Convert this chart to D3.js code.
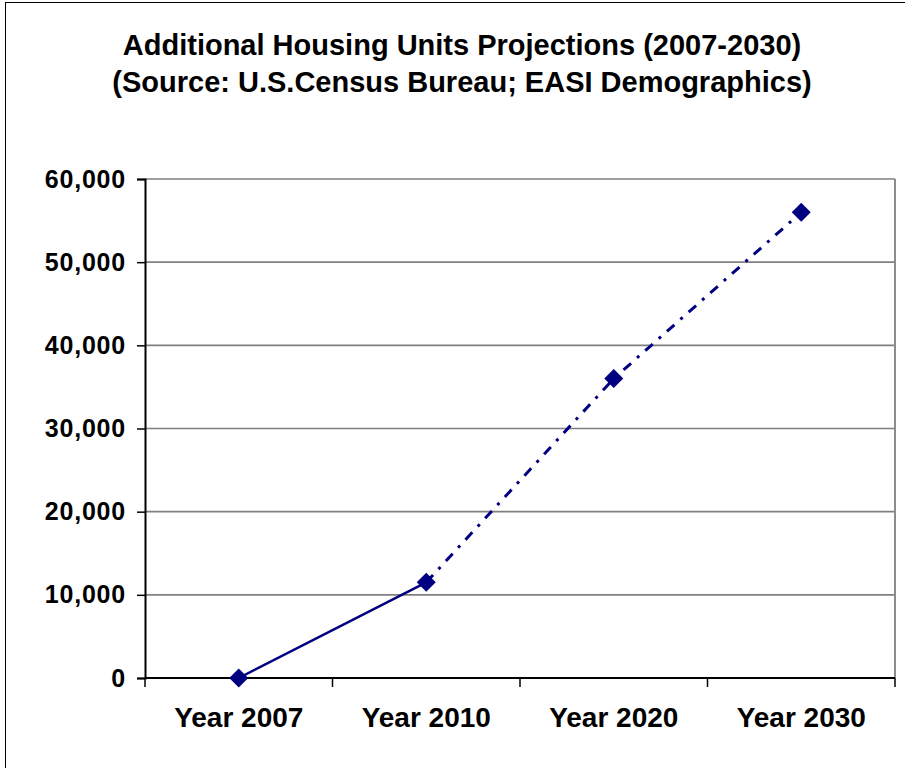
<!DOCTYPE html>
<html lang="en">
<head>
<meta charset="UTF-8">
<title>Additional Housing Units Projections</title>
<script src="https://d3js.org/d3.v7.min.js"></script>
<style>
    body { margin: 0; background: #fff; font-family: "Liberation Sans", Arial, sans-serif; }
    .title { font-weight: bold; font-size: 29px; fill: #000; }
    .ylab { font-weight: bold; font-size: 25px; letter-spacing: 0.8px; }
    .xlab { font-weight: bold; font-size: 28px; }
</style>
</head>
<body>
<svg id="chart" width="905" height="768"></svg>
<script>
    const categories = ["Year 2007", "Year 2010", "Year 2020", "Year 2030"];
    const units = [0, 11500, 36000, 56000];
    const yTicks = [0, 10000, 20000, 30000, 40000, 50000, 60000];
    const titleLines = ["Additional Housing Units Projections (2007-2030)",
                        "(Source: U.S.Census Bureau; EASI Demographics)"];

    const svg = d3.select("#chart");
    const plotL = 145, plotR = 895, plotT = 179, plotB = 678;

    // outer chart border (only top and left visible in the frame)
    svg.append("rect")
        .attr("x", 5.5).attr("y", 2.5)
        .attr("width", 1000).attr("height", 1000)
        .attr("fill", "none").attr("stroke", "#000").attr("stroke-width", 1);

    svg.selectAll("text.title")
        .data(titleLines)
        .enter().append("text")
        .attr("class", "title")
        .attr("x", 462)
        .attr("y", (d, i) => 55 + i * 37)
        .attr("text-anchor", "middle")
        .text(d => d);

    const x = d3.scaleBand().domain(categories).range([plotL, plotR]).padding(0);
    const y = d3.scaleLinear().domain([0, 60000]).range([plotB, plotT]);

    // gridlines
    svg.append("g").selectAll("line")
        .data(yTicks.filter(d => d > 0))
        .enter().append("line")
        .attr("x1", plotL).attr("x2", plotR)
        .attr("y1", d => y(d)).attr("y2", d => y(d))
        .attr("stroke", "#808080").attr("stroke-width", 1.6);

    // right border of plot area
    svg.append("line")
        .attr("x1", plotR).attr("x2", plotR)
        .attr("y1", plotT).attr("y2", plotB)
        .attr("stroke", "#8c8c8c").attr("stroke-width", 2);

    // y axis
    const yAxis = svg.append("g")
        .attr("transform", `translate(${plotL},0)`)
        .call(d3.axisLeft(y).tickValues(yTicks).tickSize(8).tickPadding(11)
            .tickFormat(d3.format(",")));
    yAxis.attr("font-family", null).attr("font-size", null);
    yAxis.select(".domain").attr("stroke", "#000").attr("stroke-width", 2);
    yAxis.selectAll(".tick line").attr("stroke", "#000").attr("stroke-width", 1.5);
    yAxis.selectAll("text").attr("class", "ylab").attr("fill", "#000");

    // x axis: ticks at category boundaries
    const xAxis = svg.append("g").attr("transform", `translate(0,${plotB})`);
    xAxis.append("line")
        .attr("x1", plotL).attr("x2", plotR).attr("y1", 0).attr("y2", 0)
        .attr("stroke", "#000").attr("stroke-width", 2);
    const bounds = categories.map(c => x(c)).concat([plotR]);
    xAxis.selectAll("line.tk")
        .data(bounds)
        .enter().append("line")
        .attr("class", "tk")
        .attr("x1", d => d).attr("x2", d => d)
        .attr("y1", 0).attr("y2", 9)
        .attr("stroke", "#000").attr("stroke-width", 1.5);
    xAxis.selectAll("text")
        .data(categories)
        .enter().append("text")
        .attr("class", "xlab")
        .attr("x", d => x(d) + x.bandwidth() / 2)
        .attr("y", 49)
        .attr("text-anchor", "middle")
        .text(d => d);

    const pts = categories.map((c, i) => [x(c) + x.bandwidth() / 2, y(units[i])]);
    const line = d3.line();

    // actual segment (solid) and projected segment (dash-dot)
    svg.append("path")
        .attr("d", line(pts.slice(0, 2)))
        .attr("fill", "none").attr("stroke", "#000080").attr("stroke-width", 2.5);
    svg.append("path")
        .attr("d", line(pts.slice(1)))
        .attr("fill", "none").attr("stroke", "#000080").attr("stroke-width", 3)
        .attr("stroke-dasharray", "10,8,3,8");

    svg.append("g").selectAll("path")
        .data(pts)
        .enter().append("path")
        .attr("d", d3.symbol(d3.symbolSquare, 180)())
        .attr("transform", d => `translate(${d[0]},${d[1]}) rotate(45)`)
        .attr("fill", "#000080");
</script>
</body>
</html>
